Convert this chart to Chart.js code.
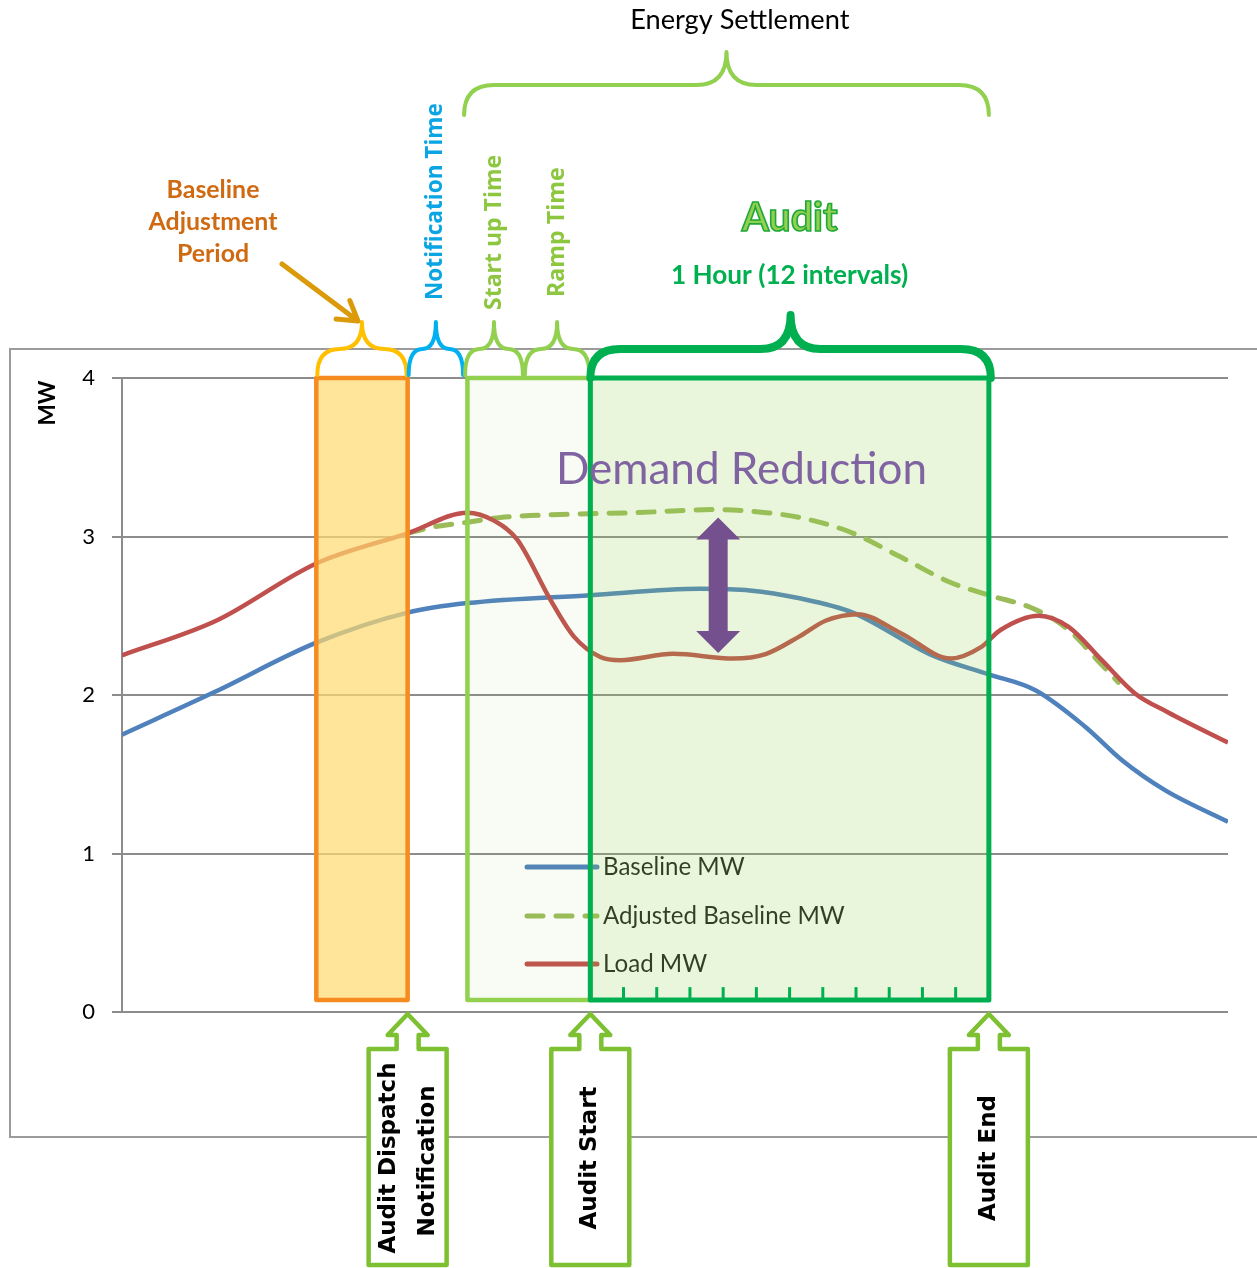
<!doctype html>
<html>
<head>
<meta charset="utf-8"/>
<title>Audit timeline</title>
<style>
    html, body { margin: 0; padding: 0; background: #fff; overflow: hidden; }
    .chart-container { position: relative; width: 1257px; height: 1268px; }
</style>
</head>
<body>
<div class="chart-container"><canvas id="myChart"></canvas></div>
<script src="https://cdn.jsdelivr.net/npm/chart.js@4.4.1/dist/chart.umd.min.js"></script>
<script>
// time is in 5 minute intervals, the audit runs from 14 to 26
var baselineTime = [-0.1, 2.7, 5.75, 8.5, 10.3, 14, 17.3, 18.8, 20.3, 21.9, 24.3, 26, 27.4, 28.9, 30.0, 31.3, 33.2];
var baselineMW   = [1.75, 2.02, 2.33, 2.52, 2.58, 2.63, 2.67, 2.66, 2.61, 2.52, 2.25, 2.13, 2.03, 1.80, 1.59, 1.40, 1.20];

var adjustedTime = [8.5, 9.27, 10.3, 11.3, 13.3, 15.3, 17.8, 19.3, 20.3, 21.8, 23.35, 24.85, 26, 27.4, 28.4, 29.4, 29.9];
var adjustedMW   = [3.02, 3.06, 3.09, 3.12, 3.14, 3.15, 3.17, 3.15, 3.12, 3.03, 2.87, 2.71, 2.63, 2.54, 2.41, 2.19, 2.08];

var loadTime = [-0.1, 2.75, 5.75, 8.5, 10.3, 11.1, 11.8, 12.8, 13.5, 14.3, 14.9, 16.5, 18.3, 19.3, 20.3, 21.1, 22.05, 23.35, 24.85, 25.75, 26.35, 27.5, 28.4, 29.4, 30.4, 31.4, 33.2];
var loadMW   = [2.25, 2.47, 2.83, 3.02, 3.15, 3.10, 2.98, 2.60, 2.37, 2.24, 2.22, 2.26, 2.23, 2.26, 2.37, 2.47, 2.51, 2.39, 2.23, 2.30, 2.41, 2.50, 2.43, 2.22, 2.01, 1.89, 1.70];

var yTicks = [0, 1, 2, 3, 4];

var phaseNames = ['Baseline Adjustment Period', 'Notification Time', 'Start up Time', 'Ramp Time', 'Audit'];
var phaseStart = [5.75, 8.5, 10.2, 12, 14];
var phaseEnd   = [8.5, 10.2, 12, 14, 26];

var eventNames = [['Audit Dispatch', 'Notification'], ['Audit Start'], ['Audit End']];
var eventTime  = [8.5, 14, 26];

function pts(xs, ys) {
    return xs.map(function (x, i) { return { x: x, y: ys[i] }; });
}

function fitFont(ctx, text, width, weight, family) {
    ctx.font = weight + ' 100px ' + family;
    var size = 100 * width / ctx.measureText(text).width;
    return weight + ' ' + size.toFixed(1) + 'px ' + family;
}

function brace(ctx, x1, x2, yEnd, yBar, yTip, r, color, width) {
    var cx = (x1 + x2) / 2;
    r = Math.min(r, (cx - x1) / 2);
    ctx.save();
    ctx.strokeStyle = color;
    ctx.lineWidth = width;
    ctx.lineCap = 'round';
    ctx.lineJoin = 'round';
    ctx.beginPath();
    ctx.moveTo(x1, yEnd);
    ctx.quadraticCurveTo(x1, yBar, x1 + r, yBar);
    ctx.lineTo(cx - r, yBar);
    ctx.quadraticCurveTo(cx, yBar, cx, yTip);
    ctx.quadraticCurveTo(cx, yBar, cx + r, yBar);
    ctx.lineTo(x2 - r, yBar);
    ctx.quadraticCurveTo(x2, yBar, x2, yEnd);
    ctx.stroke();
    ctx.restore();
}

function upText(ctx, text, x, y, font, color, align) {
    ctx.save();
    ctx.translate(x, y);
    ctx.rotate(-Math.PI / 2);
    ctx.font = font;
    ctx.fillStyle = color;
    ctx.textAlign = align;
    ctx.textBaseline = 'middle';
    ctx.fillText(text, 0, 0);
    ctx.restore();
}

var diagram = {
    id: 'diagram',
    beforeDraw: function (chart) {
        var ctx = chart.ctx;
        ctx.save();
        ctx.strokeStyle = '#9b9b9b';
        ctx.lineWidth = 2;
        ctx.strokeRect(10, 349, 1260, 788);
        ctx.restore();
    },
    afterDatasetsDraw: function (chart) {
        var ctx = chart.ctx, xs = chart.scales.x, ys = chart.scales.y, a = chart.chartArea;
        var top = ys.getPixelForValue(4), bot = ys.getPixelForValue(0.075);
        ctx.save();

        // legend
        var sets = chart.data.datasets;
        var lx = a.left + 405, rows = [a.bottom - 145, a.bottom - 96, a.bottom - 48];
        var lfont = fitFont(ctx, 'Adjusted Baseline MW', 242, 'normal', 'Lato');
        sets.forEach(function (ds, i) {
            ctx.beginPath();
            ctx.strokeStyle = ds.borderColor;
            ctx.lineWidth = 5;
            ctx.lineCap = 'round';
            ctx.setLineDash(ds.borderDash || []);
            ctx.moveTo(lx, rows[i]);
            ctx.lineTo(lx + 70, rows[i]);
            ctx.stroke();
            ctx.setLineDash([]);
            ctx.font = lfont;
            ctx.fillStyle = '#1b1b1b';
            ctx.textBaseline = 'middle';
            ctx.textAlign = 'left';
            ctx.fillText(ds.label, lx + 76, rows[i]);
        });

        // phase boxes
        function box(t0, t1, fill, stroke, w) {
            var x0 = xs.getPixelForValue(t0), x1 = xs.getPixelForValue(t1);
            ctx.fillStyle = fill;
            ctx.fillRect(x0, top, x1 - x0, bot - top);
            ctx.strokeStyle = stroke;
            ctx.lineWidth = w;
            ctx.lineJoin = 'round';
            ctx.strokeRect(x0, top, x1 - x0, bot - top);
        }
        box(phaseStart[0], phaseEnd[0], 'rgba(255,218,110,0.7)', '#F68B1F', 4.5);
        box(phaseStart[2] + 0.1, phaseEnd[3], 'rgba(146,208,80,0.06)', '#92D050', 4.5);
        box(phaseStart[4], phaseEnd[4], 'rgba(146,208,80,0.2)', '#00B050', 5);

        // 12 intervals
        ctx.strokeStyle = '#00B050';
        ctx.lineWidth = 3;
        ctx.lineCap = 'butt';
        for (var k = phaseStart[4] + 1; k < phaseEnd[4]; k++) {
            var tx = xs.getPixelForValue(k);
            ctx.beginPath();
            ctx.moveTo(tx, bot);
            ctx.lineTo(tx, bot - 13);
            ctx.stroke();
        }

        // demand reduction arrow
        var cx = xs.getPixelForValue(17.85), yT = ys.getPixelForValue(3.12), yB = ys.getPixelForValue(2.265);
        ctx.beginPath();
        ctx.moveTo(cx, yT);
        ctx.lineTo(cx + 22, yT + 22);
        ctx.lineTo(cx + 9.5, yT + 22);
        ctx.lineTo(cx + 9.5, yB - 22);
        ctx.lineTo(cx + 22, yB - 22);
        ctx.lineTo(cx, yB);
        ctx.lineTo(cx - 22, yB - 22);
        ctx.lineTo(cx - 9.5, yB - 22);
        ctx.lineTo(cx - 9.5, yT + 22);
        ctx.lineTo(cx - 22, yT + 22);
        ctx.closePath();
        ctx.fillStyle = '#75508F';
        ctx.fill();

        ctx.font = fitFont(ctx, 'Demand Reduction', 371, 'normal', 'Lato');
        ctx.fillStyle = '#8064A2';
        ctx.textAlign = 'center';
        ctx.textBaseline = 'middle';
        ctx.fillText('Demand Reduction', xs.getPixelForValue(18.55), ys.getPixelForValue(3.42));
        ctx.restore();
    },
    afterDraw: function (chart) {
        var ctx = chart.ctx, xs = chart.scales.x, a = chart.chartArea;
        function px(t) { return xs.getPixelForValue(t); }
        ctx.save();

        // braces over each phase
        var colors = ['#FFC000', '#00B0F0', '#92D050', '#92D050'];
        for (var i = 0; i < 4; i++) {
            brace(ctx, px(phaseStart[i]) + 1, px(phaseEnd[i]) - 1, a.top - 3, a.top - 29, a.top - 56, 25, colors[i], 4);
        }
        brace(ctx, px(phaseStart[4]), px(phaseEnd[4]) + 2, a.top, a.top - 29, a.top - 63, 30, '#00B050', 8);
        brace(ctx, px(phaseStart[2]), px(phaseEnd[4]), 115, 85, 52, 30, '#92D050', 4);

        ctx.font = fitFont(ctx, 'Energy Settlement', 219, 'normal', 'Lato');
        ctx.fillStyle = '#000';
        ctx.textAlign = 'center';
        ctx.textBaseline = 'middle';
        ctx.fillText('Energy Settlement', px(18.5), 20);

        // vertical phase labels
        var vf = 'Open Sans';
        upText(ctx, phaseNames[1], px((phaseStart[1] + phaseEnd[1]) / 2), 300,
            fitFont(ctx, phaseNames[1], 197, 'bold', vf), '#0AA5E2', 'left');
        upText(ctx, phaseNames[2], px((phaseStart[2] + phaseEnd[2]) / 2), 310,
            fitFont(ctx, phaseNames[2], 155, 'bold', vf), '#8DC63F', 'left');
        upText(ctx, phaseNames[3], px((phaseStart[3] + phaseEnd[3]) / 2), 297,
            fitFont(ctx, phaseNames[3], 130, 'bold', vf), '#8DC63F', 'left');

        // audit title
        var ax = px((phaseStart[4] + phaseEnd[4]) / 2);
        ctx.font = fitFont(ctx, phaseNames[4], 96, 'bold', 'Lato');
        ctx.fillStyle = '#92D050';
        ctx.strokeStyle = '#1FA83A';
        ctx.lineWidth = 1.6;
        ctx.fillText(phaseNames[4], ax, 218);
        ctx.strokeText(phaseNames[4], ax, 218);
        ctx.font = fitFont(ctx, '1 Hour (12 intervals)', 237, 'bold', 'Lato');
        ctx.fillStyle = '#00B050';
        ctx.fillText('1 Hour (12 intervals)', ax, 276);

        // baseline adjustment label and arrow
        var bl = ['Baseline', 'Adjustment', 'Period'];
        ctx.font = fitFont(ctx, bl[1], 129, 'bold', 'Lato');
        ctx.fillStyle = '#D06A12';
        bl.forEach(function (s, j) { ctx.fillText(s, a.left + 91, 190 + 32 * j); });

        var tipX = px((phaseStart[0] + phaseEnd[0]) / 2) - 4, tipY = a.top - 57;
        var sx = 282, sy = 264, ang = Math.atan2(tipY - sy, tipX - sx);
        ctx.strokeStyle = '#DA9A0A';
        ctx.lineWidth = 5;
        ctx.lineCap = 'round';
        ctx.lineJoin = 'round';
        ctx.beginPath();
        ctx.moveTo(sx, sy);
        ctx.lineTo(tipX, tipY);
        ctx.moveTo(tipX - 22 * Math.cos(ang - 0.55), tipY - 22 * Math.sin(ang - 0.55));
        ctx.lineTo(tipX, tipY);
        ctx.lineTo(tipX - 22 * Math.cos(ang + 0.55), tipY - 22 * Math.sin(ang + 0.55));
        ctx.stroke();

        // event callouts below the axis
        var cf = 'bold 23px DejaVu Sans';
        eventTime.forEach(function (t, i) {
            var cx = px(t), ty = a.bottom + 2, b = 1265;
            ctx.beginPath();
            ctx.moveTo(cx, ty);
            ctx.lineTo(cx + 20, ty + 21);
            ctx.lineTo(cx + 11, ty + 21);
            ctx.lineTo(cx + 11, ty + 35);
            ctx.lineTo(cx + 39, ty + 35);
            ctx.lineTo(cx + 39, b);
            ctx.lineTo(cx - 39, b);
            ctx.lineTo(cx - 39, ty + 35);
            ctx.lineTo(cx - 11, ty + 35);
            ctx.lineTo(cx - 11, ty + 21);
            ctx.lineTo(cx - 20, ty + 21);
            ctx.closePath();
            ctx.fillStyle = '#fff';
            ctx.fill();
            ctx.strokeStyle = '#7DC031';
            ctx.lineWidth = 4.5;
            ctx.stroke();
            var lines = eventNames[i];
            lines.forEach(function (s, j) {
                var off = lines.length > 1 ? (j === 0 ? -19 : 20) : 0;
                upText(ctx, s, cx + off, 1158 + (j * 3), cf, '#000', 'center');
            });
        });

        // axis title
        upText(ctx, 'MW', 48, 403, fitFont(ctx, 'MW', 45, 'bold', 'Lato'), '#000', 'center');
        ctx.restore();
    }
};

var data = {
    datasets: [{
        label: 'Baseline MW',
        data: pts(baselineTime, baselineMW),
        borderColor: '#4F81BD',
        order: 3
    }, {
        label: 'Adjusted Baseline MW',
        data: pts(adjustedTime, adjustedMW),
        borderColor: '#9BBB59',
        borderDash: [16, 13],
        borderCapStyle: 'round',
        borderWidth: 5,
        order: 2
    }, {
        label: 'Load MW',
        data: pts(loadTime, loadMW),
        borderColor: '#C0504D',
        order: 1
    }]
};

var config = {
    type: 'line',
    data: data,
    options: {
        responsive: true,
        maintainAspectRatio: false,
        animation: false,
        layout: { padding: { left: 10, right: 29, top: 378, bottom: 256 } },
        elements: {
            point: { radius: 0 },
            line: { borderWidth: 4.5, cubicInterpolationMode: 'monotone', fill: false }
        },
        scales: {
            x: { type: 'linear', min: -0.1, max: 33.2, display: false },
            y: {
                min: 0,
                max: 4,
                afterBuildTicks: function (s) { s.ticks = yTicks.map(function (v) { return { value: v }; }); },
                afterFit: function (s) { s.width = 112; },
                ticks: { color: '#000', padding: 17, font: { family: 'Lato', size: 22 } },
                grid: { color: '#8c8c8c', lineWidth: 2, tickLength: 10 },
                border: { display: true, color: '#8c8c8c', width: 2 }
            }
        },
        plugins: { legend: { display: false }, tooltip: { enabled: false } }
    },
    plugins: [diagram]
};

var myChart = new Chart(document.getElementById('myChart'), config);
</script>
</body>
</html>
